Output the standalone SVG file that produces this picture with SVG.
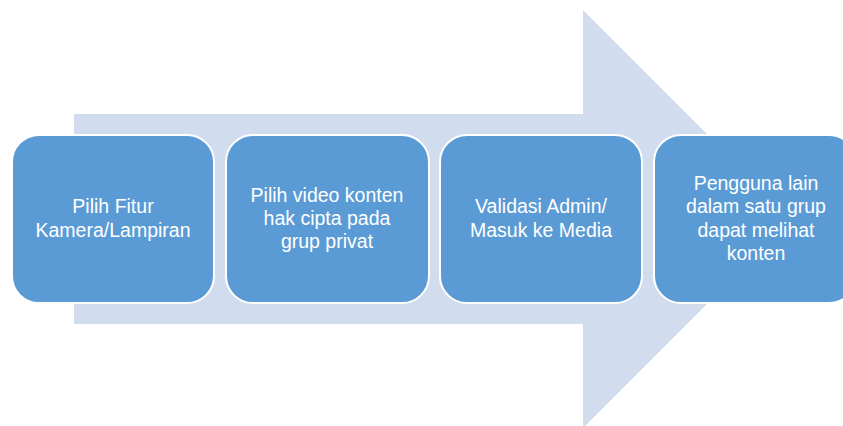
<svg xmlns="http://www.w3.org/2000/svg" width="843" height="426" viewBox="0 0 843 426">
<style>
.box{fill:#5B9BD5;stroke:#FFFFFF;stroke-width:2}
.t{font-family:"Liberation Sans",Arial,sans-serif;font-size:19.5px;fill:#FFFFFF;text-anchor:middle}
</style>
<rect width="843" height="426" fill="#FFFFFF"/>
<g id="arrow">
<polygon points="74,114 583,114 583,10 792,219 583,428 583,324 74,324" fill="#D1DDEE"/>
</g>
<g id="connectors"></g>
<g id="node1">
<rect class="box" x="12" y="135" width="202" height="168" rx="27" ry="27"/>
<text class="t" x="113" y="213">Pilih Fitur</text>
<text class="t" x="113" y="237">Kamera/Lampiran</text>
</g>
<g id="node2">
<rect class="box" x="226" y="135" width="203" height="168" rx="27" ry="27"/>
<text class="t" x="327" y="202">Pilih video konten</text>
<text class="t" x="327" y="225">hak cipta pada</text>
<text class="t" x="327" y="248">grup privat</text>
</g>
<g id="node3">
<rect class="box" x="440" y="135" width="202" height="168" rx="27" ry="27"/>
<text class="t" x="541" y="213">Validasi Admin/</text>
<text class="t" x="541" y="237">Masuk ke Media</text>
</g>
<g id="node4">
<rect class="box" x="654" y="135" width="202" height="168" rx="27" ry="27"/>
<text class="t" x="756" y="190">Pengguna lain</text>
<text class="t" x="756" y="213">dalam satu grup</text>
<text class="t" x="756" y="237">dapat melihat</text>
<text class="t" x="756" y="260">konten</text>
</g>
</svg>
